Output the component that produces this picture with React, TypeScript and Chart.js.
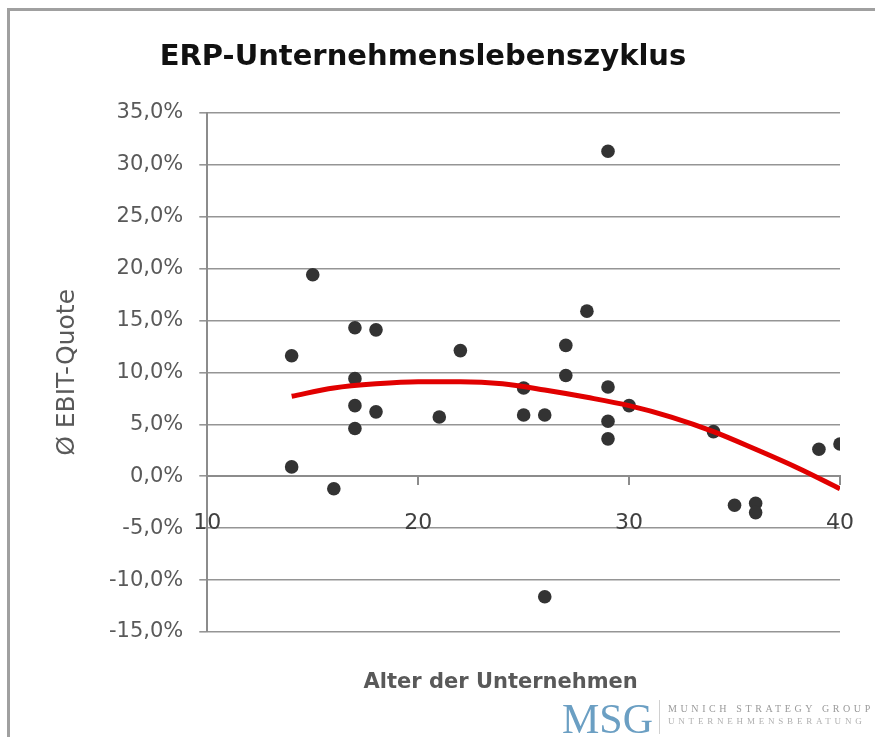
import React, { useEffect, useRef } from 'react';
import { Chart, registerables } from 'chart.js';

Chart.register(...registerables);

const chartTitle = 'ERP-Unternehmenslebenszyklus';
const xAxisTitle = 'Alter der Unternehmen';
const yAxisTitle = 'Ø EBIT-Quote';

// Age of company (years) and average EBIT margin (%)
const companyAge = [14, 14, 15, 16, 17, 17, 17, 17, 18, 18, 21, 22, 25, 25, 26, 26, 27, 27, 28, 29, 29, 29, 29, 30, 34, 35, 36, 36, 39, 40];
const ebitMargin = [11.6, 0.9, 19.4, -1.2, 14.3, 9.4, 6.8, 4.6, 14.1, 6.2, 5.7, 12.1, 8.5, 5.9, 5.9, -11.6, 12.6, 9.7, 15.9, 31.3, 8.6, 5.3, 3.6, 6.8, 4.3, -2.8, -2.6, -3.5, 2.6, 3.1];

// Polynomial trend line
const trendAge = [14, 16, 18, 20, 22, 24, 26, 28, 30, 32, 34, 36, 38, 40];
const trendMargin = [7.7, 8.5, 8.9, 9.1, 9.1, 8.9, 8.3, 7.6, 6.8, 5.7, 4.3, 2.6, 0.8, -1.2];

const xMin = 10;
const xMax = 40;
const xStep = 10;
const yMin = -15;
const yMax = 35;
const yStep = 5;

const fmtPct = (v: number) => v.toFixed(1).replace('.', ',') + '%';

// Draws the x-axis title below the plot, slightly left of the plot centre (as in the original)
const xTitlePlugin = {
  id: 'xAxisTitle',
  afterDraw(chart: any) {
    const { ctx, chartArea } = chart;
    ctx.save();
    ctx.font = 'bold 21px "DejaVu Sans"';
    ctx.fillStyle = '#595959';
    ctx.textAlign = 'center';
    ctx.textBaseline = 'middle';
    ctx.fillText(xAxisTitle, (chartArea.left + chartArea.right) / 2 - 23, chartArea.bottom + 51);
    ctx.restore();
  },
};

export default function App() {
  const canvasRef = useRef<HTMLCanvasElement | null>(null);

  useEffect(() => {
    if (!canvasRef.current) return;
    const chart = new Chart(canvasRef.current, {
      type: 'scatter',
      plugins: [xTitlePlugin],
      data: {
        datasets: [
          {
            label: 'Trend',
            data: trendAge.map((x, i) => ({ x, y: trendMargin[i] })),
            showLine: true,
            borderColor: '#e10000',
            backgroundColor: '#e10000',
            borderWidth: 5,
            pointRadius: 0,
            tension: 0.4,
            cubicInterpolationMode: 'monotone',
            order: 0,
            xAxisID: 'x',
            yAxisID: 'y',
          } as any,
          {
            label: 'Unternehmen',
            data: companyAge.map((x, i) => ({ x, y: ebitMargin[i] })),
            backgroundColor: '#333333',
            borderWidth: 0,
            pointRadius: 6.8,
            order: 1,
            xAxisID: 'x',
            yAxisID: 'y',
          },
        ],
      },
      options: {
        responsive: false,
        animation: false,
        devicePixelRatio: 1,
        layout: { padding: { left: 6, right: 35, top: 0, bottom: 105 } },
        plugins: {
          legend: { display: false },
          tooltip: { enabled: false },
          title: {
            display: true,
            text: chartTitle,
            color: '#111111',
            font: { family: 'DejaVu Sans', size: 29, weight: 'bold' },
            padding: { top: 40, bottom: 38 },
          },
        },
        scales: {
          x: {
            type: 'linear',
            position: { y: 0 } as any,
            min: xMin,
            max: xMax,
            ticks: {
              stepSize: xStep,
              padding: 0,
              maxRotation: 0,
              color: '#404040',
              font: { family: 'DejaVu Sans', size: 22 },
            },
            grid: {
              drawOnChartArea: false,
              tickLength: 34,
              tickBorderDash: [8, 200],
              color: '#8c8c8c',
              lineWidth: 2,
            },
            border: { display: true, color: '#8c8c8c', width: 2 },
          },
          y: {
            type: 'linear',
            position: 'left',
            min: yMin,
            max: yMax,
            ticks: {
              stepSize: yStep,
              padding: 16,
              color: '#595959',
              font: { family: 'DejaVu Sans', size: 21 },
              callback: (v: any) => fmtPct(Number(v)),
            },
            grid: { color: '#959595', lineWidth: 1.6, tickLength: 8 },
            border: { display: true, color: '#8c8c8c', width: 2 },
            title: {
              display: true,
              text: yAxisTitle,
              color: '#595959',
              font: { family: 'DejaVu Sans', size: 25 },
              padding: { top: 46, bottom: 11 },
            },
          },
        },
      } as any,
    });
    return () => chart.destroy();
  }, []);

  return (
    <div style={{ position: 'fixed', left: 0, top: 0, width: 875, height: 737, overflow: 'hidden', background: '#ffffff' }}>
      <div style={{ position: 'absolute', left: 7, top: 8, width: 920, height: 800, borderLeft: '3px solid #a0a0a0', borderTop: '3px solid #a0a0a0' }} />
      <canvas ref={canvasRef} width={875} height={737} style={{ position: 'absolute', left: 0, top: 0 }} />
      <div style={{ position: 'absolute', left: 562, top: 698, fontFamily: '"Liberation Serif", serif', fontSize: 42, lineHeight: '42px', color: '#6b9fc3' }}>MSG</div>
      <div style={{ position: 'absolute', left: 659, top: 700, width: 1, height: 34, background: '#d0d0d0' }} />
      <div style={{ position: 'absolute', left: 668, top: 703, fontFamily: '"Liberation Serif", serif', fontSize: 10, lineHeight: '11px', letterSpacing: 3.6, color: '#9a9a9a', whiteSpace: 'nowrap' }}>MUNICH STRATEGY GROUP</div>
      <div style={{ position: 'absolute', left: 668, top: 716, fontFamily: '"Liberation Serif", serif', fontSize: 9, lineHeight: '10px', letterSpacing: 3.8, color: '#b0b0b0', whiteSpace: 'nowrap' }}>UNTERNEHMENSBERATUNG</div>
    </div>
  );
}
